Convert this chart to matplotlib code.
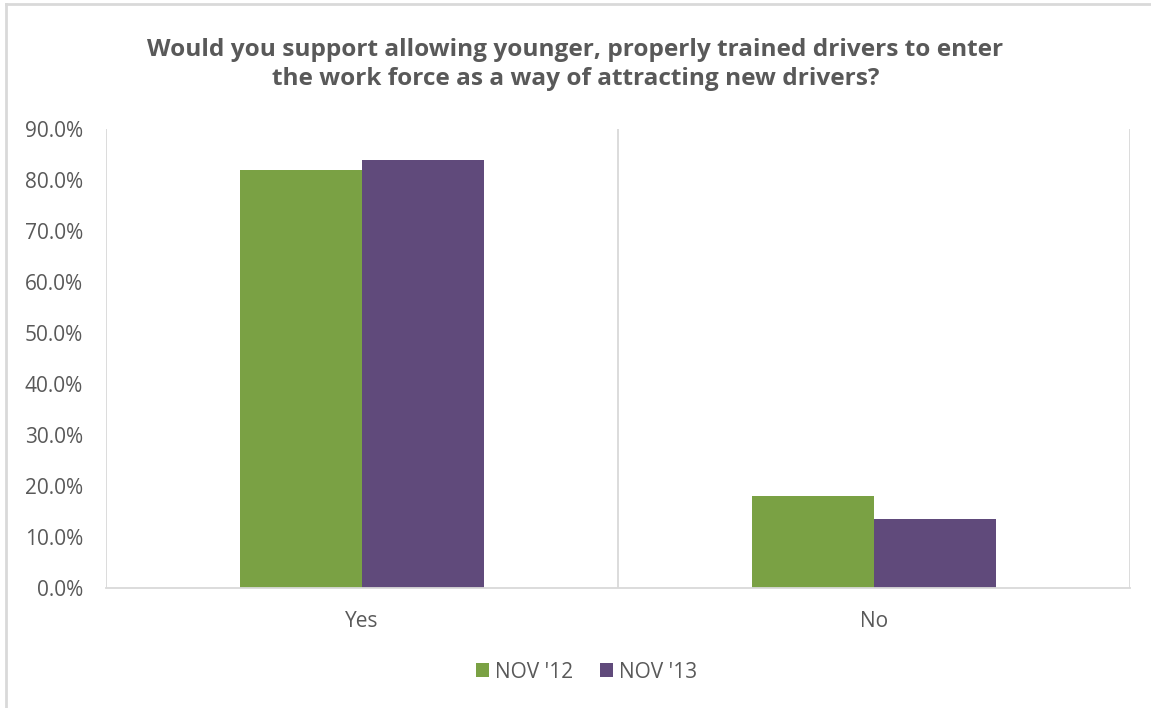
import matplotlib.pyplot as plt
import numpy as np
from matplotlib.ticker import FuncFormatter

plt.rcParams['font.family'] = ['Open Sans', 'DejaVu Sans']

# survey answers, share of respondents (%)
categories = ['Yes', 'No']
series_names = ["NOV '12", "NOV '13"]
nov12 = [81.9, 18.0]
nov13 = [84.0, 13.4]
colors = ['#7AA144', '#604A7B']

W, H = 1151, 708
fig = plt.figure(figsize=(W / 100, H / 100), dpi=100)
ax = fig.add_axes([106 / W, (H - 587.5) / H, 1024 / W, 458.5 / H])

x = np.arange(len(categories))
bw = 0.238
ax.bar(x - bw / 2, nov12, bw, color=colors[0], label=series_names[0])
ax.bar(x + bw / 2, nov13, bw, color=colors[1], label=series_names[1])

ax.set_xlim(-0.5, len(categories) - 0.5)
ax.set_ylim(0, 90)
ax.set_yticks(np.arange(0, 91, 10))
ax.yaxis.set_major_formatter(FuncFormatter(lambda v, _: f'{v:.1f}%'))
ax.set_xticks(x)
ax.set_xticklabels(categories)

grid = '#D9D9D9'
for xv in np.arange(-0.5, len(categories), 1.0):
    ax.axvline(xv, color=grid, lw=1.3, zorder=0)
for s in ['top', 'right', 'left']:
    ax.spines[s].set_visible(False)
ax.spines['bottom'].set_color(grid)
ax.spines['bottom'].set_linewidth(1.3)

txt = '#595959'
ax.tick_params(axis='both', length=0, labelsize=15, colors=txt)
ax.tick_params(axis='y', pad=16.5)
ax.tick_params(axis='x', pad=17)

fig.text(0.5, 1 - 64.5 / H,
         'Would you support allowing younger, properly trained drivers to enter\n'
         'the work force as a way of attracting new drivers?',
         ha='center', va='center', fontsize=17.6, fontweight='bold', color=txt,
         linespacing=1.33)

fig.legend(loc='center', bbox_to_anchor=(586.5 / W, 1 - 672 / H), ncol=2,
           frameon=False, fontsize=15, handlelength=0.62, handleheight=0.62,
           handletextpad=0.3, columnspacing=1.3, labelcolor=txt)

# chart frame (only top and left edges fall inside the image)
fig.add_artist(plt.Line2D([6 / W, 6 / W], [0, 1 - 4 / H], color=grid, lw=2,
                          transform=fig.transFigure))
fig.add_artist(plt.Line2D([6 / W, 1], [1 - 4 / H, 1 - 4 / H], color=grid, lw=2,
                          transform=fig.transFigure))

fig.savefig('out.png', dpi=100, facecolor='white')
